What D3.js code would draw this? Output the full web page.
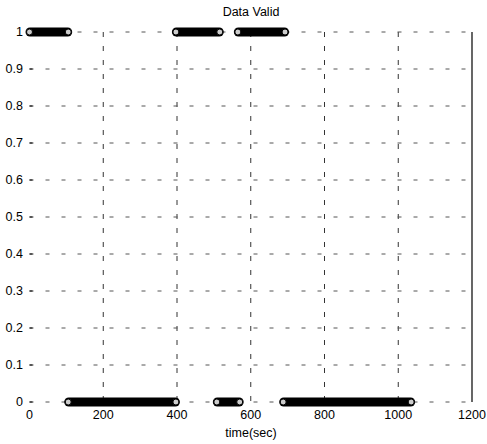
<!DOCTYPE html>
<html>
<head>
<meta charset="utf-8">
<script src="https://cdn.jsdelivr.net/npm/d3@7"></script>
<style>
  body { margin: 0; background: #fff; }
  text { font-family: "Liberation Sans", Arial, sans-serif; fill: #000; }
</style>
</head>
<body>
<svg id="svg1" width="487" height="444"></svg>
<script>
// segments of the "valid" signal: start time, end time, value
var segStart = [0, 105, 397, 508, 565, 688];
var segEnd   = [105, 397, 516, 570, 693, 1035];
var segValue = [1, 0, 1, 0, 1, 0];

var xTicks = [0, 200, 400, 600, 800, 1000, 1200];
var yTicks = [0, 0.1, 0.2, 0.3, 0.4, 0.5, 0.6, 0.7, 0.8, 0.9, 1];
var yTickLabels = ["0", "0.1", "0.2", "0.3", "0.4", "0.5", "0.6", "0.7", "0.8", "0.9", "1"];

var svg = d3.select("#svg1");

var scaleX = d3.scaleLinear().domain([0, 1200]).range([29.5, 472]);
var scaleY = d3.scaleLinear().domain([0, 1]).range([402, 32]);

var g = svg.append("g");

// grid (matlab dotted grid, looks broken up on the scan)
g.selectAll("line.gx").data(xTicks.slice(1, -1)).enter().append("line")
  .attr("x1", function(d){ return scaleX(d); })
  .attr("x2", function(d){ return scaleX(d); })
  .attr("y1", scaleY(1)).attr("y2", scaleY(0))
  .attr("stroke", "#333").attr("stroke-width", 1)
  .attr("stroke-dasharray", "5,9");

g.selectAll("line.gy").data(yTicks).enter().append("line")
  .attr("y1", function(d){ return scaleY(d); })
  .attr("y2", function(d){ return scaleY(d); })
  .attr("x1", scaleX(0)).attr("x2", scaleX(1200))
  .attr("stroke", "#555").attr("stroke-width", 1)
  .attr("stroke-dasharray", "4,12");

// right border
g.append("line")
  .attr("x1", scaleX(1200)).attr("x2", scaleX(1200))
  .attr("y1", scaleY(1)).attr("y2", scaleY(0))
  .attr("stroke", "#000").attr("stroke-width", 1.2);

// y ticks + labels
g.selectAll("line.ty").data(yTicks).enter().append("line")
  .attr("x1", scaleX(0)).attr("x2", scaleX(0) + 3)
  .attr("y1", function(d){ return scaleY(d); })
  .attr("y2", function(d){ return scaleY(d); })
  .attr("stroke", "#000");
g.selectAll("text.ly").data(yTicks).enter().append("text")
  .attr("x", 23)
  .attr("y", function(d){ return scaleY(d) + 4; })
  .attr("text-anchor", "end")
  .attr("font-size", 12.5)
  .text(function(d, i){ return yTickLabels[i]; });

// x labels
g.selectAll("text.lx").data(xTicks).enter().append("text")
  .attr("x", function(d){ return scaleX(d); })
  .attr("y", 419)
  .attr("text-anchor", "middle")
  .attr("font-size", 12.5)
  .text(function(d){ return d; });

// data bands (densely packed circle markers)
var segs = segStart.map(function(s, i){ return {s: s, e: segEnd[i], v: segValue[i]}; });
var bands = g.selectAll("g.seg").data(segs).enter().append("g");
bands.append("rect")
  .attr("x", function(d){ return scaleX(d.s) - 4; })
  .attr("y", function(d){ return scaleY(d.v) - 4.5; })
  .attr("width", function(d){ return scaleX(d.e) - scaleX(d.s) + 8; })
  .attr("height", 9)
  .attr("rx", 4.5)
  .attr("fill", "#000");
bands.selectAll("circle").data(function(d){ return [[d.s, d.v], [d.e, d.v]]; })
  .enter().append("circle")
  .attr("cx", function(d){ return scaleX(d[0]); })
  .attr("cy", function(d){ return scaleY(d[1]); })
  .attr("r", 3)
  .attr("fill", "#ccc")
  .attr("stroke", "#000")
  .attr("stroke-width", 1);

// title and x label
svg.append("text").attr("x", 251).attr("y", 16)
  .attr("text-anchor", "middle").attr("font-size", 12.5).text("Data Valid");
svg.append("text").attr("x", 251).attr("y", 437)
  .attr("text-anchor", "middle").attr("font-size", 12.5).text("time(sec)");
</script>
</body>
</html>
